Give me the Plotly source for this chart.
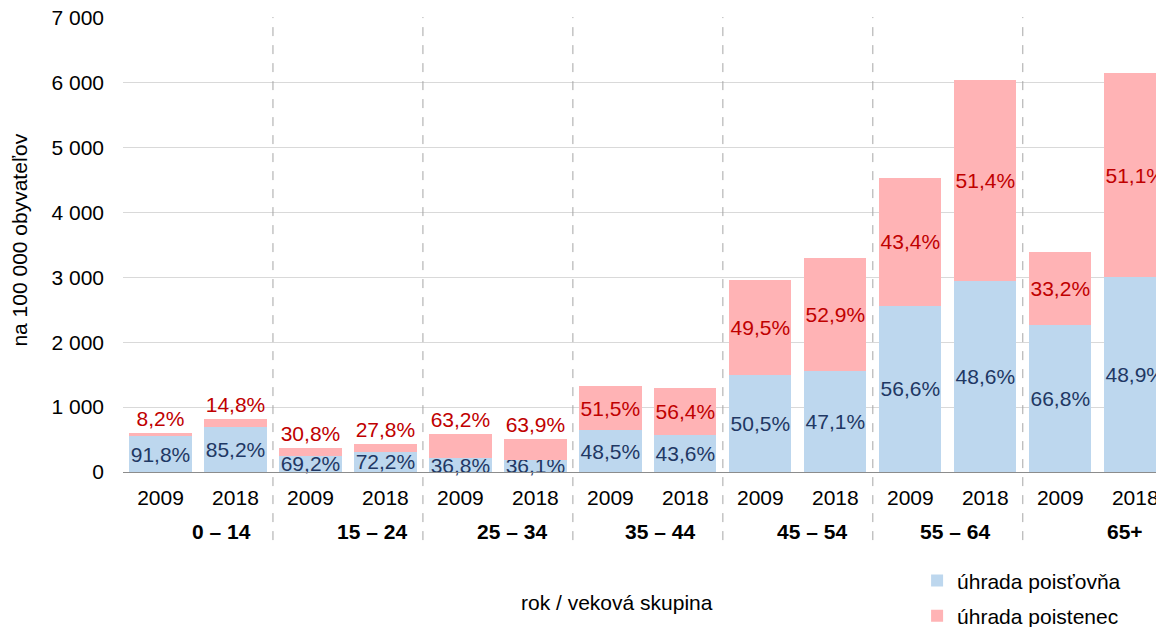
import plotly.graph_objects as go

# kategórie: rok x veková skupina
roky = ["2009", "2018"] * 7
skupiny = ["0 – 14", "15 – 24", "25 – 34", "35 – 44", "45 – 54", "55 – 64", "65+"]

# hodnoty na 100 000 obyvateľov (odčítané z grafu)
poistovna = [551, 694, 253, 314, 215, 186, 643, 567, 1495, 1557, 2564, 2938, 2261, 3007]
poistenec = [49, 121, 112, 121, 370, 329, 682, 733, 1465, 1748, 1966, 3107, 1124, 3143]

# podiely v %
podiel_poistovna = ["91,8%", "85,2%", "69,2%", "72,2%", "36,8%", "36,1%", "48,5%",
                    "43,6%", "50,5%", "47,1%", "56,6%", "48,6%", "66,8%", "48,9%"]
podiel_poistenec = ["8,2%", "14,8%", "30,8%", "27,8%", "63,2%", "63,9%", "51,5%",
                    "56,4%", "49,5%", "52,9%", "43,4%", "51,4%", "33,2%", "51,1%"]

x = list(range(len(roky)))
FONT = "Liberation Sans, Arial, sans-serif"
FS = 21

fig = go.Figure()
fig.add_trace(go.Bar(
    x=x, y=poistovna, name="úhrada poisťovňa", legendgroup="a",
    marker=dict(color="#BDD7EE", line=dict(width=0)),
    text=podiel_poistovna, textposition="inside", insidetextanchor="middle",
    textangle=0, constraintext="none", cliponaxis=False,
    insidetextfont=dict(color="#1F3864", size=FS, family=FONT),
    hoverinfo="skip",
))
fig.add_trace(go.Bar(
    x=x, y=poistenec, name="úhrada poistenec", legendgroup="b",
    marker=dict(color="#FFB3B5", line=dict(width=0)),
    text=podiel_poistenec,
    textposition=["outside"] * 6 + ["inside"] * 8, insidetextanchor="middle",
    textangle=0, constraintext="none", cliponaxis=False,
    insidetextfont=dict(color="#C00000", size=FS, family=FONT),
    outsidetextfont=dict(color="#C00000", size=FS, family=FONT),
    hoverinfo="skip",
))

# prerušované oddeľovače skupín
shapes = []
for i in range(1, 7):
    shapes.append(dict(type="line", xref="x", yref="paper",
                       x0=2 * i - 0.5, x1=2 * i - 0.5, y0=-0.15, y1=1.002,
                       line=dict(color="#A6A6A6", width=1, dash="dash")))

# popisy vekových skupín
skupiny_x = [0.82, 2.82, 4.69, 6.66, 8.69, 10.59, 12.86]
annotations = []
for s, sx in zip(skupiny, skupiny_x):
    annotations.append(dict(text="<b>" + s + "</b>", x=sx, xref="x", y=-0.132, yref="paper",
                            xanchor="center", yanchor="middle", showarrow=False,
                            font=dict(size=FS, color="black", family=FONT)))

annotations.append(dict(text="na 100 000 obyvateľov", textangle=-90, x=-0.099, xref="paper",
                        y=0.51, yref="paper", xanchor="center", yanchor="middle",
                        showarrow=False, font=dict(size=FS, color="black", family=FONT)))
annotations.append(dict(text="rok / veková skupina", x=0.471, xref="paper",
                        y=-0.2885, yref="paper", xanchor="center", yanchor="middle",
                        showarrow=False, font=dict(size=FS, color="black", family=FONT)))

fig.update_layout(
    width=1164, height=627,
    margin=dict(l=115, r=0, t=10, b=163),
    barmode="stack", bargap=0.17,
    plot_bgcolor="white", paper_bgcolor="white",
    separators=", ",
    font=dict(family=FONT, size=FS, color="black"),
    showlegend=True,
    legend=dict(x=0.757, xanchor="left", xref="paper",
                y=0.119, yanchor="top", yref="container",
                traceorder="grouped", tracegroupgap=5,
                font=dict(size=FS, color="black", family=FONT)),
    shapes=shapes,
    annotations=annotations,
)
fig.update_xaxes(
    tickmode="array", tickvals=x, ticktext=roky,
    range=[-0.5, 13.49], showgrid=False, zeroline=False,
    showline=True, linecolor="#8C8C8C", linewidth=1.3,
    ticks="", ticklabelstandoff=7, automargin=False,
    tickfont=dict(size=FS, color="black", family=FONT),
)
fig.update_yaxes(
    range=[0, 7000], dtick=1000, tickformat=",d",
    showgrid=True, gridcolor="#D9D9D9", gridwidth=1,
    zeroline=False, showline=False, ticks="",
    ticklabelstandoff=18, automargin=False, ticklabeloverflow="allow",
    tickfont=dict(size=FS, color="black", family=FONT),
)

fig.write_html("out.html")
